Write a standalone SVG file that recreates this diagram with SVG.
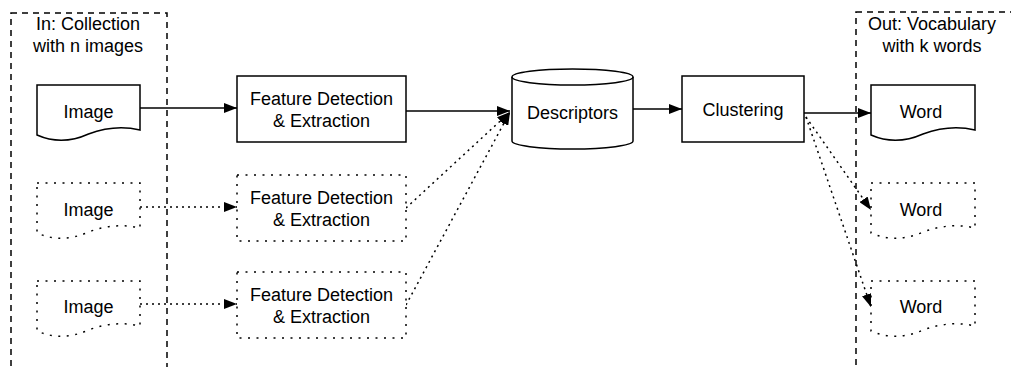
<svg xmlns="http://www.w3.org/2000/svg" width="1011" height="367" viewBox="0 0 1011 367">
<defs>
<style>
.t{font-family:"Liberation Sans",Arial,Helvetica,sans-serif;font-size:18px;fill:#000;text-anchor:middle}
.solid{fill:#fff;stroke:#000;stroke-width:1.5}
.dot{fill:#fff;stroke:#000;stroke-width:1.5;stroke-dasharray:2 6.5}
.cont{fill:none;stroke:#000;stroke-width:1.5;stroke-dasharray:6 5}
.e{fill:none;stroke:#000;stroke-width:1.5}
.ed{fill:none;stroke:#000;stroke-width:1.5;stroke-dasharray:2 4}
</style>
<marker id="ah" markerUnits="userSpaceOnUse" viewBox="0 0 13 10" markerWidth="13" markerHeight="10" refX="13" refY="5" orient="auto">
<path d="M0,0 L13,5 L0,10 Z" fill="#000" stroke="none"/>
</marker>
</defs>
<rect width="1011" height="367" fill="#fff"/>

<g id="container-in">
<rect class="cont" x="11" y="13" width="156" height="400"/>
<text class="t" x="88" y="30">In: Collection</text>
<text class="t" x="88" y="52">with n images</text>
</g>
<g id="container-out">
<rect class="cont" x="856" y="12" width="200" height="400"/>
<text class="t" x="932" y="30">Out: Vocabulary</text>
<text class="t" x="932" y="52">with k words</text>
</g>

<g id="connectors">
<line class="e" x1="140" y1="108" x2="237" y2="108" marker-end="url(#ah)"/>
<line class="ed" x1="140" y1="207" x2="237" y2="207" marker-end="url(#ah)"/>
<line class="ed" x1="140" y1="304" x2="237" y2="304" marker-end="url(#ah)"/>
<line class="e" x1="406" y1="111" x2="510" y2="111" marker-end="url(#ah)"/>
<line class="ed" x1="406" y1="208" x2="510" y2="112" marker-end="url(#ah)"/>
<line class="ed" x1="406" y1="305" x2="510" y2="112" marker-end="url(#ah)"/>
<line class="e" x1="633" y1="109" x2="682" y2="109" marker-end="url(#ah)"/>
<line class="e" x1="804" y1="113" x2="871" y2="113" marker-end="url(#ah)"/>
<line class="ed" x1="806" y1="117" x2="871" y2="210" marker-end="url(#ah)"/>
<line class="ed" x1="806" y1="117" x2="871" y2="307" marker-end="url(#ah)"/>
</g>

<g id="image1">
<path class="solid" d="M37,85 H140 V130 Q115,124 88.5,134 Q62,146 37,135 Z"/>
<text class="t" x="88.5" y="118">Image</text>
</g>
<g id="image2">
<path class="dot" d="M37,183 H140 V228 Q115,222 88.5,232 Q62,244 37,233 Z"/>
<text class="t" x="88.5" y="216">Image</text>
</g>
<g id="image3">
<path class="dot" d="M37,281 H140 V326 Q115,320 88.5,330 Q62,342 37,331 Z"/>
<text class="t" x="88.5" y="313">Image</text>
</g>

<g id="feature1">
<rect class="solid" x="237" y="76" width="169" height="66"/>
<text class="t" x="321.5" y="105">Feature Detection</text>
<text class="t" x="321.5" y="127">&amp; Extraction</text>
</g>
<g id="feature2">
<rect class="dot" x="237" y="175" width="169" height="66"/>
<text class="t" x="321.5" y="204">Feature Detection</text>
<text class="t" x="321.5" y="226">&amp; Extraction</text>
</g>
<g id="feature3">
<rect class="dot" x="237" y="272" width="169" height="66"/>
<text class="t" x="321.5" y="301">Feature Detection</text>
<text class="t" x="321.5" y="323">&amp; Extraction</text>
</g>

<g id="descriptors">
<path class="solid" d="M512,77 A60.5,8 0 0 1 633,77 V141 A60.5,8 0 0 1 512,141 Z"/>
<path class="e" d="M512,77 A60.5,8 0 0 0 633,77"/>
<text class="t" x="572.5" y="119">Descriptors</text>
</g>

<g id="clustering">
<rect class="solid" x="682" y="76" width="122" height="66"/>
<text class="t" x="743" y="116">Clustering</text>
</g>

<g id="word1">
<path class="solid" d="M871,85 H975 V130 Q950,124 923,134 Q896,146 871,135 Z"/>
<text class="t" x="921" y="118">Word</text>
</g>
<g id="word2">
<path class="dot" d="M871,183 H975 V228 Q950,222 923,232 Q896,244 871,233 Z"/>
<text class="t" x="921" y="216">Word</text>
</g>
<g id="word3">
<path class="dot" d="M871,281 H975 V326 Q950,320 923,330 Q896,342 871,331 Z"/>
<text class="t" x="921" y="313">Word</text>
</g>
</svg>
